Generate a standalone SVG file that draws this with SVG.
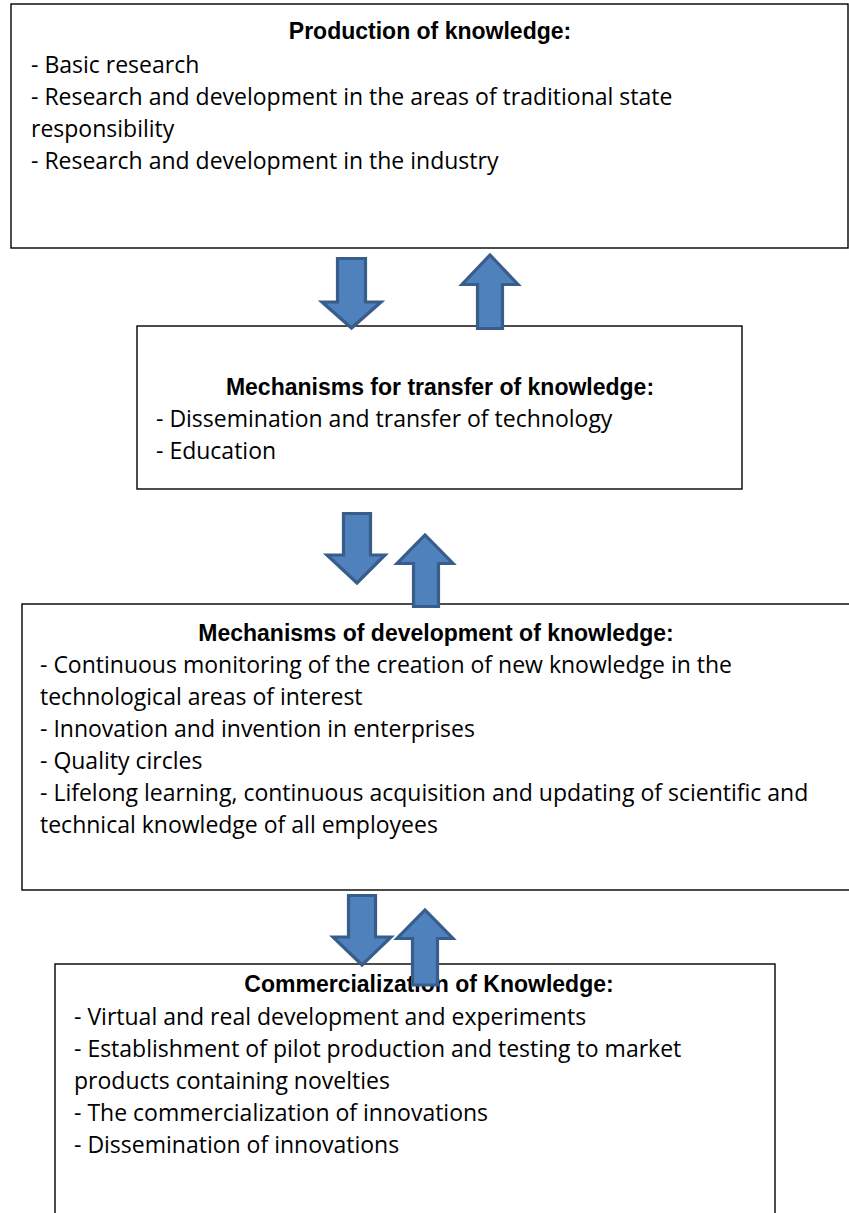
<svg xmlns="http://www.w3.org/2000/svg" width="849" height="1213" viewBox="0 0 849 1213">
<style>
.box{fill:#fff;stroke:#000;stroke-width:1.4}
.t{font-family:"Open Sans","Liberation Sans",Arial,sans-serif;font-size:23px;fill:#000}
.b{font-family:"Liberation Sans",Arial,sans-serif;font-weight:bold;text-anchor:middle}
.arr{fill:#4f81bd;stroke:#385d8a;stroke-width:3.2;stroke-linejoin:miter}
</style>
<rect width="849" height="1213" fill="#fff"/>
<g id="node-production">
<rect class="box" x="11" y="4" width="837" height="244"/>
<text class="t b" x="430" y="39">Production of knowledge:</text>
<text class="t" x="31" y="73">- Basic research</text>
<text class="t" x="31" y="105">- Research and development in the areas of traditional state</text>
<text class="t" x="31" y="137">responsibility</text>
<text class="t" x="31" y="169">- Research and development in the industry</text>
</g>
<g id="node-transfer">
<rect class="box" x="137" y="326" width="605" height="163"/>
<text class="t b" x="440" y="395">Mechanisms for transfer of knowledge:</text>
<text class="t" x="156" y="427">- Dissemination and transfer of technology</text>
<text class="t" x="156" y="459">- Education</text>
</g>
<g id="node-development">
<rect class="box" x="22" y="604" width="832" height="286"/>
<text class="t b" x="436" y="641">Mechanisms of development of knowledge:</text>
<text class="t" x="40" y="673">- Continuous monitoring of the creation of new knowledge in the</text>
<text class="t" x="40" y="705">technological areas of interest</text>
<text class="t" x="40" y="737">- Innovation and invention in enterprises</text>
<text class="t" x="40" y="769">- Quality circles</text>
<text class="t" x="40" y="801">- Lifelong learning, continuous acquisition and updating of scientific and</text>
<text class="t" x="40" y="833">technical knowledge of all employees</text>
</g>
<g id="node-commercialization">
<rect class="box" x="55" y="964" width="720" height="260"/>
<text class="t b" x="429" y="992">Commercialization of Knowledge:</text>
<text class="t" x="74" y="1025">- Virtual and real development and experiments</text>
<text class="t" x="74" y="1057">- Establishment of pilot production and testing to market</text>
<text class="t" x="74" y="1089">products containing novelties</text>
<text class="t" x="74" y="1121">- The commercialization of innovations</text>
<text class="t" x="74" y="1153">- Dissemination of innovations</text>
</g>
<g id="connectors">
<path class="arr" d="M337.5,258.5 H365.5 V302 H381 L351.5,328 L322,302 H337.5 Z"/>
<path class="arr" d="M477.5,328.5 H502.5 V284.5 H518 L490,255 L462,284.5 H477.5 Z"/>
<path class="arr" d="M343.5,513.5 H370.5 V555 H385 L357,583 L327,555 H343.5 Z"/>
<path class="arr" d="M413.5,606.5 H438.5 V563.5 H453 L425,535 L397,563.5 H413.5 Z"/>
<path class="arr" d="M348.5,895.5 H375.5 V937 H391 L362,965 L333,937 H348.5 Z"/>
<path class="arr" d="M412.5,985 H437.5 V938.5 H453 L425,910 L397,938.5 H412.5 Z"/>
</g>
</svg>
